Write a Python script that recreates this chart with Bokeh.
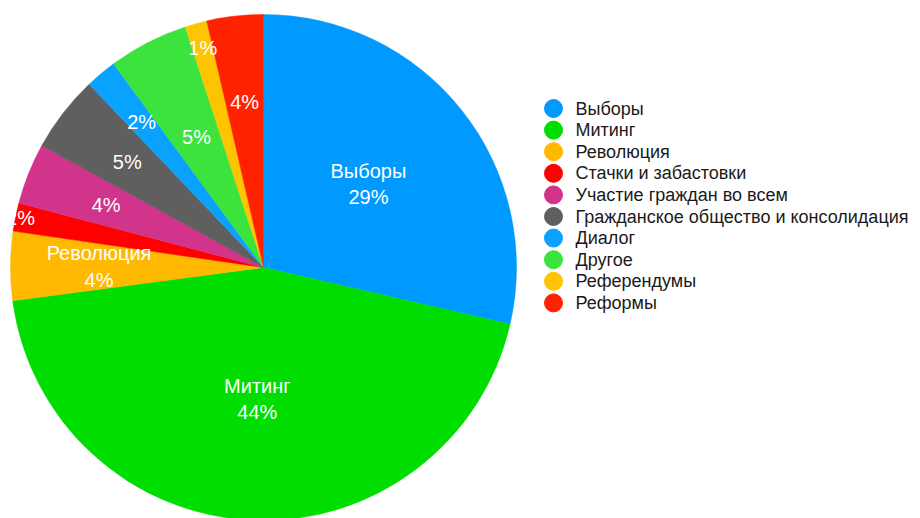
import math
from bokeh.plotting import figure
from bokeh.models import Range1d, ColumnDataSource
from bokeh.core.properties import value
from bokeh.embed import file_html
from bokeh.resources import INLINE

# ---- data ----
categories = ["Выборы", "Митинг", "Революция", "Стачки и забастовки",
              "Участие граждан во всем", "Гражданское общество и консолидация",
              "Диалог", "Другое", "Референдумы", "Реформы"]
shares = [28.6, 44.3, 4.4, 1.8, 3.9, 4.9, 2.0, 5.1, 1.4, 3.6]
colors = ["#0099ff", "#00dd00", "#ffb900", "#ff0000", "#d2338b",
          "#5f5f5f", "#0aa2ff", "#3de33d", "#ffc400", "#ff2200"]
name_on_slice = [True, True, True, False, False, False, False, False, False, False]

# ---- layout (styles / positions) ----
label_r = [0.53, 0.52, 0.65, 0.98, 0.67, 0.68, 0.75, 0.58, 0.90, 0.66]
W, H = 920, 518
CX, CY, R = 263, -267, 253
FONT = value("Liberation Sans")

p = figure(width=W, height=H, x_range=Range1d(0, W), y_range=Range1d(-H, 0),
           output_backend="svg", toolbar_location=None, min_border=0,
           x_axis_location=None, y_axis_location=None)
p.grid.visible = False
p.outline_line_color = None
p.background_fill_color = "white"

total = sum(shares)
starts, ends, lx, ly, ltext = [], [], [], [], []
acc = 0.0
for i, s in enumerate(shares):
    a0 = acc / total * 2 * math.pi
    acc += s
    a1 = acc / total * 2 * math.pi
    starts.append(math.pi / 2 - a1)
    ends.append(math.pi / 2 - a0)
    mid = (a0 + a1) / 2
    rr = label_r[i] * R
    lx.append(CX + rr * math.sin(mid))
    ly.append(CY + rr * math.cos(mid))
    pct = f"{round(s / total * 100)}%"
    ltext.append(f"{categories[i]}\n{pct}" if name_on_slice[i] else pct)

src = ColumnDataSource(dict(start=starts, end=ends, color=colors, lx=lx, ly=ly, text=ltext))
p.wedge(x=CX, y=CY, radius=R, start_angle="start", end_angle="end",
        fill_color="color", line_color="color", line_width=0.5, source=src)
p.text(x="lx", y="ly", text="text", source=src, text_color="white",
       text_font=FONT, text_font_size="20px", text_align="center",
       text_baseline="middle", text_line_height=1.2)

# legend
leg_x, leg_y0, leg_step = 553, -108, -21.6
ly2 = [leg_y0 + i * leg_step for i in range(len(categories))]
lsrc = ColumnDataSource(dict(x=[leg_x] * len(categories), tx=[leg_x + 22] * len(categories),
                             y=ly2, color=colors, text=categories))
p.scatter(x="x", y="y", size=18, marker="circle", fill_color="color",
          line_color="color", source=lsrc)
p.text(x="tx", y="y", text="text", source=lsrc, text_color="#1a1a1a",
       text_font=FONT, text_font_size="18px", text_align="left",
       text_baseline="middle")

open("out.html", "w").write(file_html(p, INLINE))
